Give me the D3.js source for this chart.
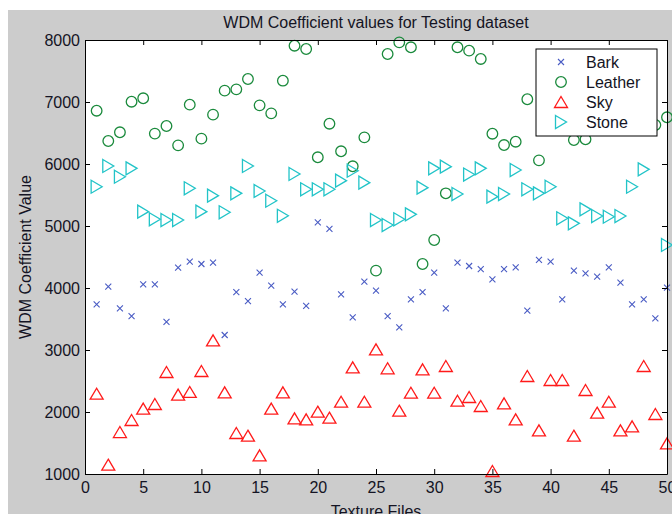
<!DOCTYPE html>
<html>
<head>
<meta charset="utf-8">
<title>WDM Coefficient values</title>
<script src="https://d3js.org/d3.v7.min.js"></script>
<style>
  body { margin: 0; background: #fff; }
  text { font-family: "Liberation Sans", Arial, sans-serif; fill: #141424; }
</style>
</head>
<body>
<div id="chart"></div>
<script>
// values, one per texture file 1..50
// null = point hidden behind the legend box
let files = d3.range(1, 51);
let bark = [3737, 4022, 3672, 3548, 4060, 4060, 3452, 4328, 4425, 4387,
            4409, 3242, 3935, 3790, 4247, 4037, 3737, 3940, 3710, 5059,
            4952, 3898, 3527, 4102, 3957, 3548, 3366, 3817, 3935, 4247,
            3672, 4409, 4355, 4306, 4140, 4306, 4334, 3634, 4452, 4425,
            3817, 4280, 4237, 4183, 4334, 4085, 3737, 3817, 3511, 4005];
let leather = [6860, 6371, 6511, 7005, 7060, 6490, 6613, 6301, 6957, 6409,
               6796, 7183, 7204, 7371, 6946, 6817, 7344, 7908, 7855, 6108,
               6650, 6205, 5963, 6430, 4280, 7774, 7962, 7882, 4387, 4774,
               5527, 7882, 7828, 7694, 6489, 6306, 6360, 7044, 6059, null,
               null, 6387, 6398, null, null, null, null, null, 6629, 6753];
let sky = [2295, 1150, 1677, 1871, 2054, 2129, 2645, 2280, 2323, 2661,
           3156, 2317, 1661, 1618, 1301, 2054, 2317, 1898, 1882, 2005,
           1908, 2166, 2720, 2166, 3011, 2705, 2021, 2311, 2688, 2311,
           2742, 2182, 2242, 2097, 1048, 2140, 1882, 2581, 1704, 2516,
           2516, 1618, 2355, 1989, 2166, 1704, 1769, 2742, 1968, 1495];
let stone = [5634, 5968, 5795, 5930, 5231, 5108, 5097, 5097, 5608, 5231,
             5489, 5221, 5527, 5968, 5565, 5408, 5165, 5839, 5592, 5592,
             5592, 5731, 5892, 5699, 5097, 5016, 5108, 5188, 5618, 5930,
             5957, 5516, 5830, 5930, 5473, 5516, 5903, 5592, 5527, 5634,
             5124, 5043, 5269, 5161, 5150, 5161, 5634, 5914, null, 4694];

let xTicks = [0, 5, 10, 15, 20, 25, 30, 35, 40, 45, 50];
let yTicks = [1000, 2000, 3000, 4000, 5000, 6000, 7000, 8000];

let series = [
  {name: 'Bark', vals: bark, color: '#4a5cc4', shape: 'x'},
  {name: 'Leather', vals: leather, color: '#1a8a3c', shape: 'o'},
  {name: 'Sky', vals: sky, color: '#ff1a1a', shape: '^'},
  {name: 'Stone', vals: stone, color: '#22c4c8', shape: '>'}
];

let svgw = 672, svgh = 514;
let margin = {top: 40, left: 85, right: 5, bottom: 40};
let w = svgw - margin.left - margin.right;
let h = svgh - margin.top - margin.bottom;

let svg = d3.select('#chart').append('svg')
  .attr('width', svgw).attr('height', svgh);

// grey figure background (white strip top/left as in the screenshot)
svg.append('rect').attr('x', 8).attr('y', 10)
  .attr('width', svgw - 8).attr('height', svgh - 10).attr('fill', '#cccccc');

let g = svg.append('g').attr('transform', `translate(${margin.left},${margin.top})`);

let x = d3.scaleLinear().domain([0, 50]).range([0, w]);
let y = d3.scaleLinear().domain([1000, 8000]).range([h, 0]);

g.append('rect').attr('width', w).attr('height', h).attr('fill', '#fff');

// markers
function drawMarker(sel, shape, color) {
  if (shape === 'o') {
    sel.append('circle').attr('r', 5.3).attr('fill', 'none')
      .attr('stroke', color).attr('stroke-width', 1.3);
  } else if (shape === 'x') {
    sel.append('path').attr('d', 'M-3,-3L3,3M-3,3L3,-3').attr('fill', 'none')
      .attr('stroke', color).attr('stroke-width', 1.1);
  } else if (shape === '^') {
    sel.append('path').attr('d', 'M0,-5.5L6.5,5.5L-6.5,5.5Z').attr('fill', 'none')
      .attr('stroke', color).attr('stroke-width', 1.3);
  } else {
    sel.append('path').attr('d', 'M-5.5,-6.5L5.5,0L-5.5,6.5Z').attr('fill', 'none')
      .attr('stroke', color).attr('stroke-width', 1.3);
  }
}

series.forEach(s => {
  let pts = files.map((f, i) => ({f: f, v: s.vals[i]})).filter(d => d.v != null);
  g.append('g').selectAll('g').data(pts).enter().append('g')
    .attr('transform', d => `translate(${x(d.f)},${y(d.v)})`)
    .each(function() { drawMarker(d3.select(this), s.shape, s.color); });
});

// axes, MATLAB style: box with inward ticks on all sides
g.append('g').attr('transform', `translate(0,${h})`)
  .call(d3.axisBottom(x).tickValues(xTicks).tickSize(-5).tickSizeOuter(0).tickPadding(8));
g.append('g')
  .call(d3.axisLeft(y).tickValues(yTicks).tickFormat(d3.format('d'))
    .tickSize(-5).tickSizeOuter(0).tickPadding(5));
g.append('g')
  .call(d3.axisTop(x).tickValues(xTicks).tickSize(-5).tickSizeOuter(0).tickFormat(''));
g.append('g').attr('transform', `translate(${w},0)`)
  .call(d3.axisRight(y).tickValues(yTicks).tickSize(-5).tickSizeOuter(0).tickFormat(''));

g.selectAll('.domain').attr('stroke', '#000');
g.selectAll('.tick line').attr('stroke', '#000');
g.selectAll('.tick text').style('font-size', '16px').attr('fill', '#141424');

// titles
svg.append('text').attr('x', margin.left + w / 2).attr('y', 28)
  .attr('text-anchor', 'middle').style('font-size', '16px')
  .text('WDM Coefficient values for Testing dataset');
svg.append('text').attr('x', margin.left + w / 2).attr('y', 517)
  .attr('text-anchor', 'middle').style('font-size', '16px')
  .text('Texture Files');
svg.append('text')
  .attr('transform', `translate(31,${margin.top + h / 2}) rotate(-90)`)
  .attr('text-anchor', 'middle').style('font-size', '16px')
  .text('WDM Coefficient Value');

// legend
let lg = svg.append('g').attr('transform', 'translate(536,49)');
lg.append('rect').attr('width', 121).attr('height', 87)
  .attr('fill', '#fff').attr('stroke', '#000');
series.forEach((s, i) => {
  let row = lg.append('g').attr('transform', `translate(25,${13 + i * 20})`);
  drawMarker(row, s.shape, s.color);
  row.append('text').attr('x', 25).attr('y', 6).style('font-size', '16px').text(s.name);
});
</script>
</body>
</html>
